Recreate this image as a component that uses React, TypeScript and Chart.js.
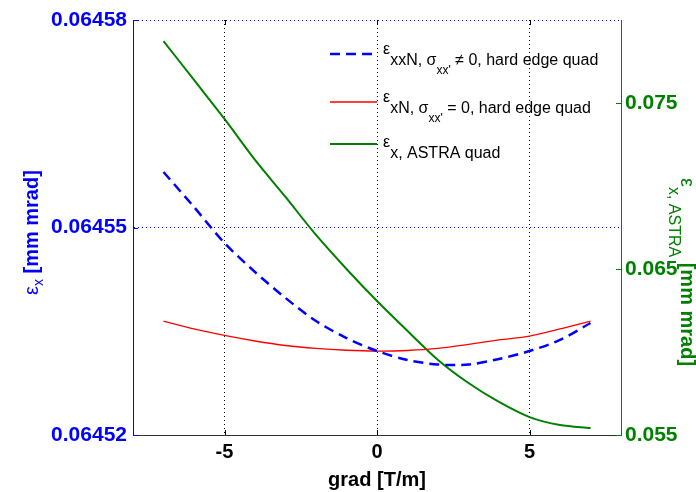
import React, { useEffect, useRef } from "react";
import { Chart, registerables } from "chart.js";
Chart.register(...registerables);

const FONT = '"Liberation Sans", Arial, Helvetica, sans-serif';

// gradient [T/m]
const grad = [-7, -6, -5, -4, -3, -2, -1, 0, 1, 2, 3, 4, 5, 6, 7];
// eps_xxN, sigma_xx' != 0, hard edge quad (left axis)
const epsXXN = [
  0.06455802, 0.06455296, 0.06454776, 0.06454357, 0.06453981, 0.06453648, 0.06453402,
  0.06453214, 0.06453084, 0.06453019, 0.06453019, 0.06453099, 0.06453214, 0.06453374, 0.06453619,
];
// eps_xN, sigma_xx' = 0, hard edge quad (left axis)
const epsXN = [
  0.06453648, 0.06453533, 0.06453439, 0.06453359, 0.06453294, 0.06453251, 0.06453225,
  0.06453214, 0.06453222, 0.06453251, 0.0645331, 0.06453374, 0.06453431, 0.06453533, 0.06453648,
];
// eps_x, ASTRA quad (right axis)
const epsAstra = [
  0.07873, 0.07639, 0.07404, 0.07157, 0.06934, 0.06705, 0.065, 0.06307, 0.06127, 0.05952,
  0.05813, 0.05699, 0.05608, 0.0556, 0.05542,
];

const xTicks = [-5, 0, 5];
const yLeftTicks = [0.06452, 0.06455, 0.06458];
const yRightTicks = [0.055, 0.065, 0.075];
const xMin = -8;
const xMax = 8;
const yLeftMin = 0.06452;
const yLeftMax = 0.06458;
const yRightMin = 0.055;
const yRightMax = 0.08;

const legendLabels = [
  { eps: "ε", main: "xxN, σ", sub: "xx'", rest: " ≠ 0, hard edge quad" },
  { eps: "ε", main: "xN, σ", sub: "xx'", rest: " = 0, hard edge quad" },
  { eps: "ε", main: "x, ASTRA quad", sub: "", rest: "" },
];

type Seg = { t: string; font: string; dy: number };

function segWidth(ctx: CanvasRenderingContext2D, segs: Seg[]) {
  let w = 0;
  for (const s of segs) {
    ctx.font = s.font;
    w += ctx.measureText(s.t).width;
  }
  return w;
}
function drawRich(ctx: CanvasRenderingContext2D, segs: Seg[], x: number, y: number) {
  let cx = x;
  for (const s of segs) {
    ctx.font = s.font;
    ctx.fillText(s.t, cx, y + s.dy);
    cx += ctx.measureText(s.t).width;
  }
}

const overlayPlugin = {
  id: "overlay",
  afterDraw(chart: any) {
    const ctx: CanvasRenderingContext2D = chart.ctx;
    const a = chart.chartArea;
    const sx = chart.scales.x;
    const syl = chart.scales.y;
    const syr = chart.scales.y2;
    ctx.save();
    const seg = (x1: number, y1: number, x2: number, y2: number) => {
      ctx.beginPath();
      ctx.moveTo(x1, y1);
      ctx.lineTo(x2, y2);
      ctx.stroke();
    };
    ctx.lineWidth = 1;
    ctx.setLineDash([]);
    ctx.strokeStyle = "#000";
    xTicks.forEach((v) => {
      const px = Math.round(sx.getPixelForValue(v)) + 0.5;
      seg(px, a.bottom, px, a.bottom - 5);
      seg(px, a.top, px, a.top + 5);
    });
    ctx.strokeStyle = "#0000ff";
    yLeftTicks.forEach((v) => {
      const py = Math.round(syl.getPixelForValue(v)) + 0.5;
      seg(a.left, py, a.left + 5, py);
    });
    ctx.strokeStyle = "#008000";
    yRightTicks.forEach((v) => {
      const py = Math.round(syr.getPixelForValue(v)) + 0.5;
      seg(a.right, py, a.right - 5, py);
    });

    // x title
    ctx.textAlign = "center";
    ctx.textBaseline = "alphabetic";
    ctx.fillStyle = "#000";
    ctx.font = `bold 20px ${FONT}`;
    ctx.fillText("grad [T/m]", (a.left + a.right) / 2, 486);

    ctx.textAlign = "left";
    // left y title
    ctx.save();
    ctx.fillStyle = "#0000ff";
    ctx.translate(38, 295);
    ctx.rotate(-Math.PI / 2);
    drawRich(
      ctx,
      [
        { t: "ε", font: `20px ${FONT}`, dy: 0 },
        { t: "x", font: `14px ${FONT}`, dy: 5 },
        { t: " [mm mrad]", font: `bold 20px ${FONT}`, dy: 0 },
      ],
      0,
      0
    );
    ctx.restore();

    // right y title
    ctx.save();
    ctx.fillStyle = "#008000";
    ctx.translate(681, 178);
    ctx.rotate(Math.PI / 2);
    drawRich(
      ctx,
      [
        { t: "ε", font: `20px ${FONT}`, dy: 0 },
        { t: "x, ASTRA", font: `16px ${FONT}`, dy: 12 },
        { t: " [mm mrad]", font: `bold 20px ${FONT}`, dy: 0 },
      ],
      0,
      0
    );
    ctx.restore();

    // legend
    const lineYs = [54, 102, 144];
    const textBase = [65, 113, 158];
    const ds = chart.data.datasets;
    legendLabels.forEach((lab, i) => {
      const d = ds[i];
      ctx.save();
      ctx.strokeStyle = d.borderColor;
      ctx.lineWidth = d.borderWidth;
      ctx.setLineDash(d.borderDash || []);
      seg(330, lineYs[i], 377, lineYs[i]);
      ctx.restore();
      ctx.fillStyle = "#000";
      const segs: Seg[] = [
        { t: lab.eps, font: `16px ${FONT}`, dy: -11 },
        { t: lab.main, font: `16px ${FONT}`, dy: 0 },
      ];
      if (lab.sub) segs.push({ t: lab.sub, font: `12px ${FONT}`, dy: 9 });
      if (lab.rest) segs.push({ t: lab.rest, font: `16px ${FONT}`, dy: 0 });
      drawRich(ctx, segs, 383, textBase[i]);
    });
    ctx.restore();
  },
};

export default function App() {
  const ref = useRef<HTMLCanvasElement | null>(null);
  useEffect(() => {
    document.body.style.margin = "0";
    if (!ref.current) return;
    const chart = new Chart(ref.current, {
      type: "line",
      data: {
        datasets: [
          {
            label: "eps_xxN",
            data: grad.map((g, i) => ({ x: g, y: epsXXN[i] })),
            borderColor: "#0000ff",
            borderWidth: 2.5,
            borderDash: [10, 6],
            pointRadius: 0,
            tension: 0.3,
            yAxisID: "y",
          },
          {
            label: "eps_xN",
            data: grad.map((g, i) => ({ x: g, y: epsXN[i] })),
            borderColor: "#ff0000",
            borderWidth: 1.3,
            pointRadius: 0,
            tension: 0.3,
            yAxisID: "y",
          },
          {
            label: "eps_x ASTRA",
            data: grad.map((g, i) => ({ x: g, y: epsAstra[i] })),
            borderColor: "#008000",
            borderWidth: 2,
            pointRadius: 0,
            tension: 0.3,
            yAxisID: "y2",
          },
        ],
      },
      options: {
        animation: false,
        responsive: true,
        maintainAspectRatio: false,
        layout: { padding: { top: 20, left: 0, right: 0, bottom: 0 } },
        plugins: { legend: { display: false }, tooltip: { enabled: false } },
        scales: {
          x: {
            type: "linear",
            min: xMin,
            max: xMax,
            afterBuildTicks: (s: any) => {
              s.ticks = xTicks.map((v) => ({ value: v }));
            },
            afterFit: (s: any) => {
              s.height = 57;
            },
            grid: { color: "#000", lineWidth: 1, drawTicks: false },
            border: { display: true, color: "#333", width: 1, dash: [1, 3] },
            ticks: {
              color: "#000",
              padding: 5,
              maxRotation: 0,
              autoSkip: false,
              font: { family: FONT, size: 20, weight: "bold" },
              callback: (v: any) => String(v),
            },
          },
          y: {
            type: "linear",
            position: "left",
            min: yLeftMin,
            max: yLeftMax,
            afterBuildTicks: (s: any) => {
              s.ticks = yLeftTicks.map((v) => ({ value: v }));
            },
            afterFit: (s: any) => {
              s.width = 133;
            },
            grid: {
              color: (c: any) =>
                c.tick && Math.abs(c.tick.value - yLeftMin) < 1e-9 ? "rgba(0,0,0,0)" : "#0000ff",
              lineWidth: 1,
              drawTicks: false,
            },
            border: { display: true, color: "#0000ff", width: 1, dash: [1, 3] },
            ticks: {
              color: "#0000ff",
              padding: 6,
              autoSkip: false,
              font: { family: FONT, size: 21, weight: "bold" },
              callback: (v: any) => Number(v).toFixed(5),
            },
          },
          y2: {
            type: "linear",
            position: "right",
            min: yRightMin,
            max: yRightMax,
            afterBuildTicks: (s: any) => {
              s.ticks = yRightTicks.map((v) => ({ value: v }));
            },
            afterFit: (s: any) => {
              s.width = 75;
            },
            grid: { display: false, drawTicks: false },
            border: { display: true, color: "#008000", width: 1 },
            ticks: {
              color: "#008000",
              padding: 4,
              autoSkip: false,
              font: { family: FONT, size: 21, weight: "bold" },
              callback: (v: any) => Number(v).toFixed(3),
            },
          },
        },
      },
      plugins: [overlayPlugin],
    } as any);
    return () => chart.destroy();
  }, []);
  return (
    <div style={{ position: "relative", width: 696, height: 492 }}>
      <canvas ref={ref} />
    </div>
  );
}
